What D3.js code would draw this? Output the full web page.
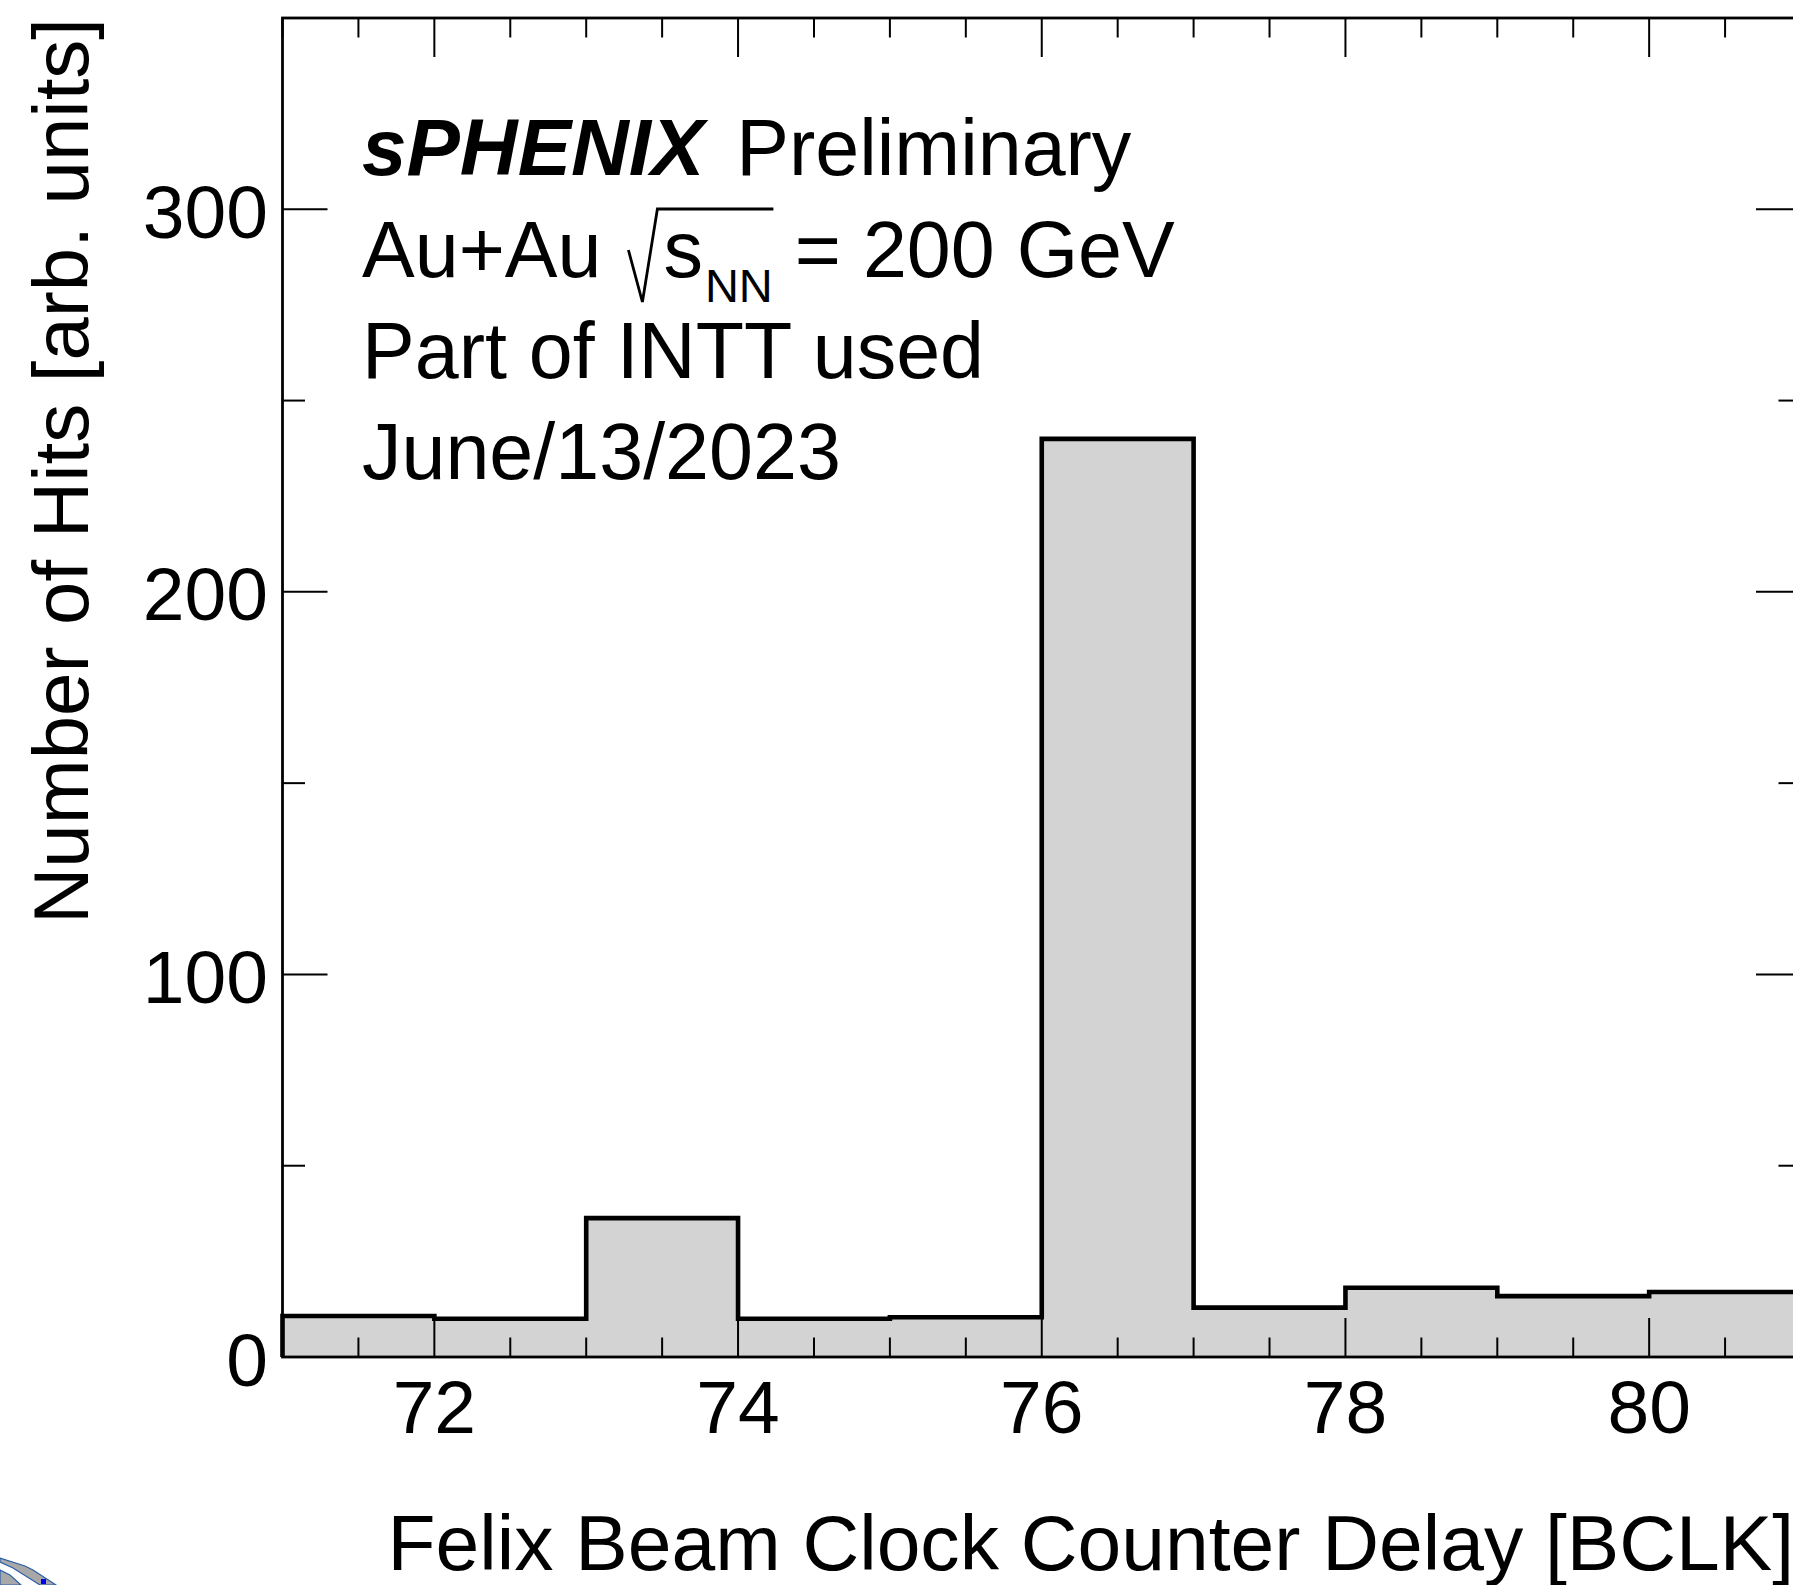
<!DOCTYPE html>
<html>
<head>
<meta charset="utf-8">
<script src="https://cdn.jsdelivr.net/npm/d3@7"></script>
<style>
  html, body { margin: 0; padding: 0; background: #fff; }
  svg { display: block; }
  text { font-family: "Liberation Sans", Arial, Helvetica, sans-serif; fill: #000; }
</style>
</head>
<body>
<svg id="chart" width="1793" height="1585"></svg>
<script>
// ---- data ----
const binLowEdges = [71, 72, 73, 74, 75, 76, 77, 78, 79, 80];
const binWidth = 1;
const hitCounts = [10.7, 10.0, 36.3, 10.0, 10.4, 240.0, 12.9, 18.1, 15.9, 17.0];
const xMajorTicks = [72, 74, 76, 78, 80];
const xTickLabels = ["72", "74", "76", "78", "80"];
const yMajorTicks = [0, 100, 200, 300];
const yTickLabels = ["0", "100", "200", "300"];
const yMinorTicks = [50, 150, 250];
const xTitle = "Felix Beam Clock Counter Delay [BCLK]";
const yTitle = "Number of Hits [arb. units]";
const labelLines = ["Preliminary", "Part of INTT used", "June/13/2023"];

// ---- layout ----
const W = 1793, H = 1585;
const frame = { left: 282.5, right: 1801, top: 18, bottom: 1357 };
const svg = d3.select("#chart");
svg.append("rect").attr("width", W).attr("height", H).attr("fill", "#fff");

const x = d3.scaleLinear().domain([71, 81]).range([frame.left, frame.right]);
const y = d3.scaleLinear().domain([0, 350]).range([frame.bottom, frame.top]);

// histogram points for step curves
const pts = [];
pts.push({ x: binLowEdges[0], y: 0 });
binLowEdges.forEach((e, i) => pts.push({ x: e, y: hitCounts[i] }));
pts.push({ x: binLowEdges[binLowEdges.length - 1] + binWidth, y: hitCounts[hitCounts.length - 1] });
pts.push({ x: binLowEdges[binLowEdges.length - 1] + binWidth, y: 0 });

const area = d3.area().curve(d3.curveStepAfter)
  .x(d => x(d.x)).y0(y(0)).y1(d => y(d.y));
svg.append("path").datum(pts.slice(1, pts.length - 1))
  .attr("d", area).attr("fill", "#d3d3d3").attr("stroke", "none");

// ---- ticks (ROOT style, inward) ----
const xMinor = d3.range(71, 81.001, 0.5).filter(v => !xMajorTicks.includes(v));
const tickG = svg.append("g").attr("stroke", "#000").attr("stroke-width", 2);
function vt(v, len) {
  tickG.append("line").attr("x1", x(v)).attr("x2", x(v))
    .attr("y1", frame.bottom).attr("y2", frame.bottom - len);
  tickG.append("line").attr("x1", x(v)).attr("x2", x(v))
    .attr("y1", frame.top).attr("y2", frame.top + len);
}
xMajorTicks.forEach(v => vt(v, 39));
xMinor.forEach(v => vt(v, 19.5));
function ht(v, len) {
  tickG.append("line").attr("y1", y(v)).attr("y2", y(v))
    .attr("x1", frame.left).attr("x2", frame.left + len);
  tickG.append("line").attr("y1", y(v)).attr("y2", y(v))
    .attr("x1", frame.right).attr("x2", frame.right - len);
}
yMajorTicks.forEach(v => ht(v, 45));
yMinorTicks.forEach(v => ht(v, 22.5));

// histogram outline
const line = d3.line().curve(d3.curveStepAfter).x(d => x(d.x)).y(d => y(d.y));
svg.append("path").datum(pts).attr("d", line)
  .attr("fill", "none").attr("stroke", "#000").attr("stroke-width", 4.6)
  .attr("stroke-linejoin", "miter");

// frame
svg.append("rect").attr("x", frame.left).attr("y", frame.top)
  .attr("width", frame.right - frame.left).attr("height", frame.bottom - frame.top)
  .attr("fill", "none").attr("stroke", "#000").attr("stroke-width", 2.8);

// ---- tick labels ----
svg.append("g").selectAll("text").data(xMajorTicks).join("text")
  .attr("x", d => x(d)).attr("y", 1433).attr("text-anchor", "middle")
  .attr("font-size", 75).text((d, i) => xTickLabels[i]);
svg.append("g").selectAll("text").data(yMajorTicks).join("text")
  .attr("x", 268).attr("y", d => y(d) + 28.5).attr("text-anchor", "end")
  .attr("font-size", 75).text((d, i) => yTickLabels[i]);

// ---- axis titles ----
svg.append("text").attr("x", 1794).attr("y", 1570).attr("text-anchor", "end")
  .attr("font-size", 78.6).text(xTitle);
svg.append("text").attr("transform", "translate(88,18) rotate(-90)")
  .attr("text-anchor", "end").attr("font-size", 78).text(yTitle);

// ---- labels ----
const tx = 362, fs = 79;
const l1 = svg.append("text").attr("x", tx).attr("y", 175).attr("font-size", 80);
l1.append("tspan").attr("font-weight", "bold").attr("font-style", "italic").text("sPHENIX");
l1.append("tspan").attr("dx", 10).attr("font-size", 79).text(" " + labelLines[0]);

// Au+Au sqrt(s_NN) = 200 GeV
const l2y = 277;
const t2a = svg.append("text").attr("x", tx).attr("y", l2y).attr("font-size", fs).text("Au+Au");
const w2a = t2a.node().getComputedTextLength();
const rx = tx + w2a + 27;
const sx = rx + 35;
svg.append("path")
  .attr("d", `M${rx},${l2y - 27} L${rx + 14},${l2y + 25} L${rx + 29},${l2y - 68} L${sx + 110},${l2y - 68}`)
  .attr("fill", "none").attr("stroke", "#000").attr("stroke-width", 2.8);
const ts = svg.append("text").attr("x", sx).attr("y", l2y).attr("font-size", fs).text("s");
const ws = ts.node().getComputedTextLength();
const tnn = svg.append("text").attr("x", sx + ws + 2).attr("y", l2y + 25).attr("font-size", 47).text("NN");
const wnn = tnn.node().getComputedTextLength();
svg.append("text").attr("x", sx + ws + 2 + wnn + 22).attr("y", l2y).attr("font-size", fs).text("= 200 GeV");

svg.append("text").attr("x", tx).attr("y", 378).attr("font-size", fs).text(labelLines[1]);
svg.append("text").attr("x", tx).attr("y", 479).attr("font-size", fs).text(labelLines[2]);

// ---- partial logo at bottom-left corner ----
const logo = svg.append("g");
logo.append("path").attr("d", "M0,1558 L25,1566 L33,1570 L56,1585 L40,1585 L13,1568 L0,1562 Z")
  .attr("fill", "#a8a8a8").attr("stroke", "#2a5fa8").attr("stroke-width", 1.2);
logo.append("path").attr("d", "M0,1570 L10,1575 L21,1585 L0,1585 Z")
  .attr("fill", "#a8a8a8").attr("stroke", "#2a5fa8").attr("stroke-width", 1.2);
logo.append("rect").attr("x", 41).attr("y", 1579).attr("width", 5).attr("height", 5).attr("fill", "#0000ee");
</script>
</body>
</html>
